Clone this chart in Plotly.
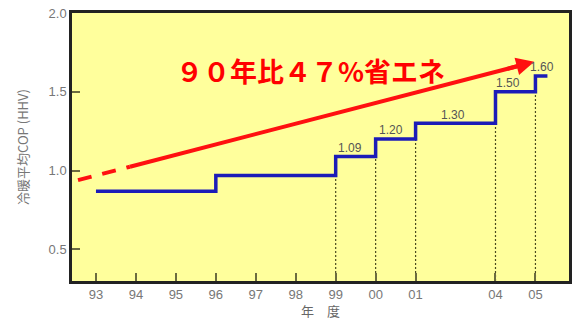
import plotly.graph_objects as go

# ---- data ----
year_labels = ["93", "94", "95", "96", "97", "98", "99", "00", "01", "04", "05"]
year_pos = [0, 1, 2, 3, 4, 5, 6, 7, 8, 10, 11]          # category slots (02/03 omitted)
step_x = [0, 3, 6, 7, 8, 10, 11, 11.3]
step_y = [0.87, 0.97, 1.09, 1.20, 1.30, 1.50, 1.60, 1.60]
value_labels = ["1.09", "1.20", "1.30", "1.50", "1.60"]
label_x = [6.0, 7.0, 8.0, 10.0, 11.0]
label_y = [1.09, 1.20, 1.30, 1.50, 1.60]
drop_x = [6, 7, 8, 10, 11]
drop_top = [0.97, 1.09, 1.20, 1.30, 1.50]
arrow_start = (-0.45, 0.94)
arrow_break = (0.85, 1.025)
arrow_end = (10.97, 1.69)
y_ticks = [0.5, 1.0, 1.5, 2.0]

# label placement offsets (layout)
label_dx = [0.37, 0.39, 0.93, 0.31, 0.17]
label_dy = 0.055

fig = go.Figure()

# dotted verticals
dx, dy = [], []
for x, t in zip(drop_x, drop_top):
    dx += [x, x, None]
    dy += [0.3, t, None]
fig.add_trace(go.Scatter(x=dx, y=dy, mode="lines",
                         line=dict(color="#4a4a20", width=1.2, dash="2px,2px"),
                         hoverinfo="skip", showlegend=False))

# blue step line
fig.add_trace(go.Scatter(x=step_x, y=step_y, mode="lines", line_shape="hv",
                         line=dict(color="#1c1cb8", width=3.5),
                         showlegend=False))

# red dashed start
fig.add_trace(go.Scatter(x=[arrow_start[0], arrow_break[0]], y=[arrow_start[1], arrow_break[1]],
                         mode="lines", line=dict(color="#ff1010", width=4, dash="14px,11px"),
                         showlegend=False))

# red solid line (stops a bit before the tip so the head covers it)
t_stop = 0.97
stop_x = arrow_break[0] + (arrow_end[0] - arrow_break[0]) * t_stop
stop_y = arrow_break[1] + (arrow_end[1] - arrow_break[1]) * t_stop
fig.add_trace(go.Scatter(x=[arrow_break[0], stop_x], y=[arrow_break[1], stop_y],
                         mode="lines", line=dict(color="#ff1010", width=4),
                         showlegend=False))

# arrow head
t_head = 0.93
head_x = arrow_break[0] + (arrow_end[0] - arrow_break[0]) * t_head
head_y = arrow_break[1] + (arrow_end[1] - arrow_break[1]) * t_head
fig.add_annotation(x=arrow_end[0], y=arrow_end[1], ax=head_x, ay=head_y,
                   xref="x", yref="y", axref="x", ayref="y", text="",
                   showarrow=True, arrowhead=2, arrowsize=0.9, arrowwidth=4,
                   arrowcolor="#ff1010")

# value labels
for t, x, y, ddx in zip(value_labels, label_x, label_y, label_dx):
    fig.add_annotation(x=x + ddx, y=y + label_dy, text=t, showarrow=False,
                       xanchor="center", yanchor="middle",
                       font=dict(family="Liberation Sans, Arial", size=12, color="#555555"))

# big red title
fig.add_annotation(x=(312 - 72) / 500, y=(281 - 70) / 268, xref="paper", yref="paper",
                   xanchor="center", yanchor="middle",
                   text="<b>９０年比４７%省エネ</b>", showarrow=False,
                   font=dict(family="Noto Sans CJK JP", size=27, color="#ff0000"))

fig.update_layout(
    width=576, height=320,
    margin=dict(l=72, r=4, t=13, b=39),
    paper_bgcolor="white",
    plot_bgcolor="#ffff9c",
    xaxis=dict(range=[-0.6, 11.84], tickvals=year_pos, ticktext=year_labels,
               ticks="inside", ticklen=8, tickcolor="#6b6b40", tickwidth=1.5,
               showline=True, linecolor="#222222", linewidth=2.5, mirror=True,
               showgrid=False, zeroline=False,
               tickfont=dict(family="Liberation Sans, Arial", size=13, color="#777777"),
               title=dict(text="年　度", font=dict(family="Noto Sans CJK JP", size=13, color="#666666"),
                          standoff=4)),
    yaxis=dict(range=[0.3, 2.0], tickvals=y_ticks, ticktext=["0.5", "1.0", "1.5", "2.0"],
               ticks="inside", ticklen=8, tickcolor="#6b6b40", tickwidth=1.5,
               showline=True, linecolor="#222222", linewidth=2.5, mirror=True,
               showgrid=False, zeroline=False,
               tickfont=dict(family="Liberation Sans, Arial", size=13, color="#777777"),
               title=dict(text="冷暖平均COP (HHV)", font=dict(family="Noto Sans CJK JP", size=13, color="#777777"),
                          standoff=18)),
)

fig.write_html("out.html")
